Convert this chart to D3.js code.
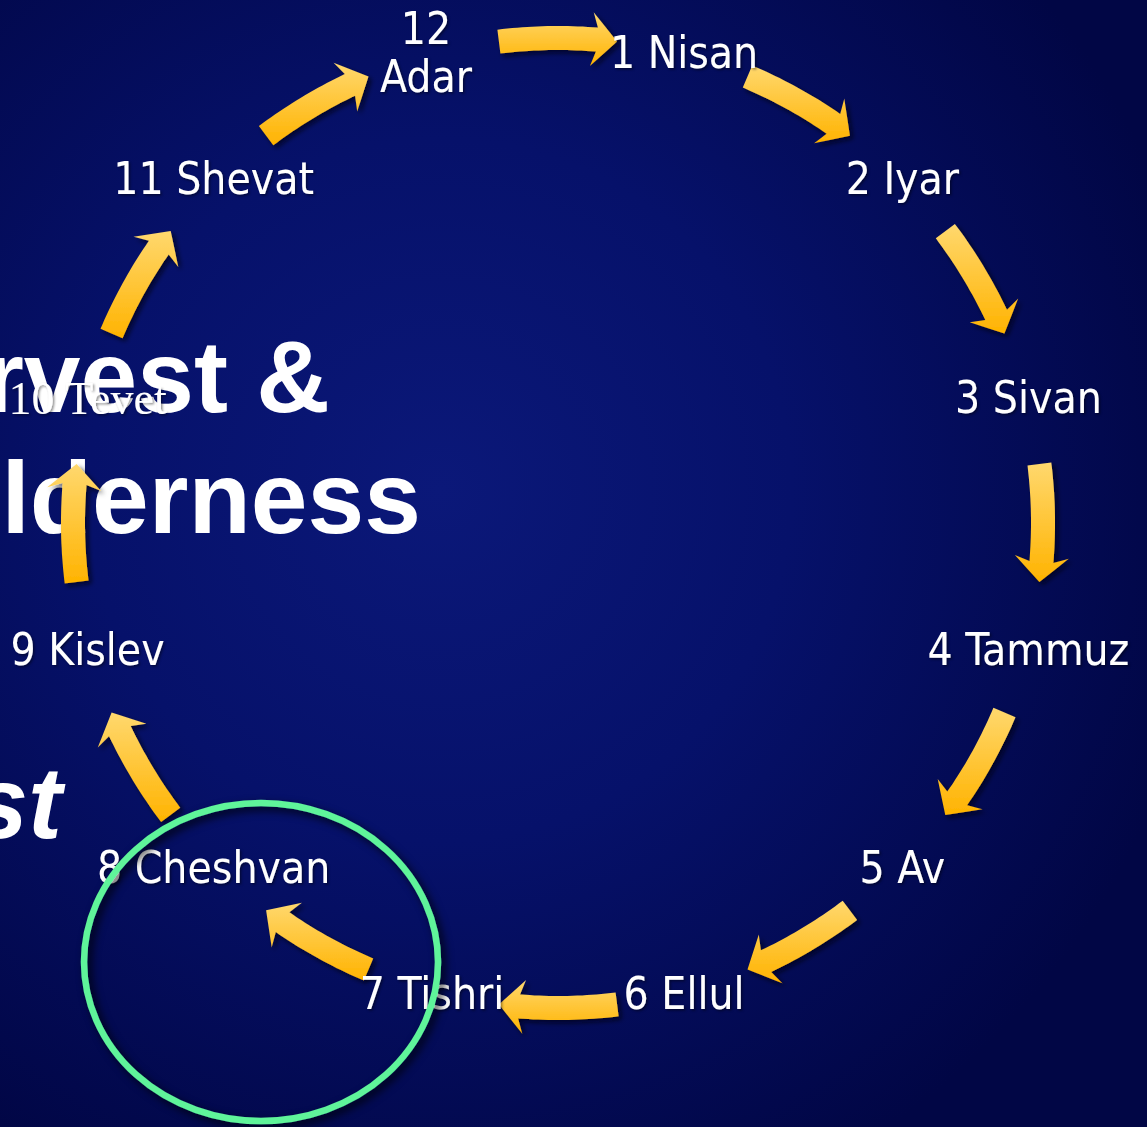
<!DOCTYPE html>
<html>
<head>
<meta charset="utf-8">
<script src="https://cdn.jsdelivr.net/npm/d3@7"></script>
<style>
    body { margin: 0; background: #020a56; overflow: hidden; }
    #cycle { width: 1147px; height: 1127px; }
</style>
</head>
<body>
<div id="cycle"></div>
<script>
// month labels around the cycle, clockwise starting with Nisan
let monthNumbers = [1, 2, 3, 4, 5, 6, 7, 8, 9, 10, 11, 12];
let monthNames = ["Nisan", "Iyar", "Sivan", "Tammuz", "Av", "Ellul",
                  "Tishri", "Cheshvan", "Kislev", "Tevet", "Shevat", "Adar"];
// arrows: from month -> to month
let arrowFrom = [12, 1, 2, 3, 4, 5, 6, 7, 8, 9, 10, 11];
let arrowTo   = [1, 2, 3, 4, 5, 6, 7, 8, 9, 10, 11, 12];
// big slide titles (mostly off the left edge)
let titleLines = ["Harvest &", "Wilderness"];
let subtitle = "Feast";

class MonthCycle {
    constructor(parentElementID) {
        this.parentElementID = parentElementID;
    }

    initVis() {
        let vis = this;
        vis.width = 1147;
        vis.height = 1127;
        vis.cx = 558;
        vis.cy = 523;
        vis.radius = 485;

        vis.svg = d3.select("#" + vis.parentElementID).append("svg")
            .attr("width", vis.width)
            .attr("height", vis.height);

        let defs = vis.svg.append("defs");

        let bg = defs.append("radialGradient")
            .attr("id", "bg-grad")
            .attr("gradientUnits", "userSpaceOnUse")
            .attr("cx", 440).attr("cy", 490).attr("r", 780);
        bg.append("stop").attr("offset", "0%").attr("stop-color", "#0b1879");
        bg.append("stop").attr("offset", "45%").attr("stop-color", "#06116a");
        bg.append("stop").attr("offset", "100%").attr("stop-color", "#010645");

        let ag = defs.append("linearGradient")
            .attr("id", "arrow-grad")
            .attr("x1", 0).attr("y1", 0).attr("x2", 0).attr("y2", 1);
        ag.append("stop").attr("offset", "0%").attr("stop-color", "#ffd86e");
        ag.append("stop").attr("offset", "100%").attr("stop-color", "#ffb300");

        defs.append("filter").attr("id", "arrow-shadow")
            .attr("x", "-30%").attr("y", "-30%").attr("width", "160%").attr("height", "160%")
            .append("feDropShadow")
            .attr("dx", 3).attr("dy", 3).attr("stdDeviation", 2.5)
            .attr("flood-color", "#000010").attr("flood-opacity", 0.7);

        defs.append("filter").attr("id", "text-shadow")
            .attr("x", "-10%").attr("y", "-20%").attr("width", "120%").attr("height", "140%")
            .append("feDropShadow")
            .attr("dx", 1.5).attr("dy", 1.5).attr("stdDeviation", 1)
            .attr("flood-color", "#000010").attr("flood-opacity", 0.45);

        defs.append("filter").attr("id", "ring-shadow")
            .attr("x", "-20%").attr("y", "-20%").attr("width", "140%").attr("height", "140%")
            .append("feDropShadow")
            .attr("dx", 4).attr("dy", 4).attr("stdDeviation", 4)
            .attr("flood-color", "#000000").attr("flood-opacity", 0.8);

        vis.svg.append("rect")
            .attr("width", vis.width)
            .attr("height", vis.height)
            .attr("fill", "url(#bg-grad)");

        // month index -> angle (degrees, clockwise from top)
        vis.angle = d3.scaleLinear().domain([0, 12]).range([0, 360]);
    }

    point(deg, r) {
        let vis = this;
        let a = deg * Math.PI / 180;
        return [vis.cx + r * Math.sin(a), vis.cy - r * Math.cos(a)];
    }

    arrowPath(midDeg) {
        let vis = this;
        let half = 7.0, shaftW = 24, headW = 54, headLen = 2.4;
        let a0 = midDeg - half, a1 = midDeg + half, ah = a1 - headLen;
        let r = vis.radius;
        let outer = d3.range(0, 21).map(k => vis.point(a0 + (ah - a0) * k / 20, r + shaftW / 2));
        let inner = d3.range(0, 21).map(k => vis.point(ah - (ah - a0) * k / 20, r - shaftW / 2));
        let pts = outer
            .concat([vis.point(ah - 0.6, r + headW / 2), vis.point(a1, r), vis.point(ah - 0.6, r - headW / 2)])
            .concat(inner);
        return "M" + pts.map(p => p[0].toFixed(1) + "," + p[1].toFixed(1)).join("L") + "Z";
    }

    updateVis() {
        let vis = this;

        // big white titles
        let titles = vis.svg.append("g")
            .attr("font-family", "'Liberation Sans', Arial, sans-serif")
            .attr("font-weight", "bold")
            .attr("font-size", 102)
            .attr("fill", "#ffffff");
        titles.selectAll(".title-line")
            .data(titleLines)
            .enter().append("text")
            .attr("class", "title-line")
            .attr("text-anchor", "end")
            .attr("x", (d, i) => i === 0 ? 330 : 421)
            .attr("y", (d, i) => 412 + i * 121)
            .text(d => d);
        titles.append("text")
            .attr("text-anchor", "end")
            .attr("font-style", "italic")
            .attr("x", 62)
            .attr("y", 838)
            .text(subtitle);

        // arrows between consecutive months
        let arrows = arrowFrom.map((f, i) => ({from: f, to: arrowTo[i]}));
        vis.svg.append("g")
            .attr("class", "arrows")
            .selectAll("path")
            .data(arrows)
            .enter().append("path")
            .attr("d", d => vis.arrowPath(vis.angle(d.to - 1)))
            .attr("fill", "url(#arrow-grad)")
            .attr("filter", "url(#arrow-shadow)");

        // month labels
        let labels = monthNumbers.map((n, i) => ({num: n, name: monthNames[i]}));
        let labelG = vis.svg.append("g")
            .attr("class", "labels")
            .attr("font-family", "'DejaVu Sans Condensed', 'DejaVu Sans', Verdana, sans-serif")
            .attr("font-stretch", "condensed")
            .attr("font-size", 44)
            .attr("fill", "#ffffff")
            .attr("filter", "url(#text-shadow)");

        let texts = labelG.selectAll("text")
            .data(labels)
            .enter().append("text")
            .attr("text-anchor", "middle")
            .attr("font-family", d => d.num === 10 ? "'Liberation Serif', serif" : null)
            .attr("font-size", d => d.num === 10 ? 46 : null)
            .attr("transform", d => {
                let p = vis.point(vis.angle(d.num - 0.5), vis.radius + 2);
                return "translate(" + p[0] + "," + p[1] + ")";
            });

        texts.each(function(d) {
            let t = d3.select(this);
            if (d.num === 12) {
                t.append("tspan").attr("x", -6).attr("dy", "-0.2em").text(d.num);
                t.append("tspan").attr("x", -6).attr("dy", "1.1em").text(d.name);
            } else {
                t.attr("dy", "0.36em").text(d.num + " " + d.name);
            }
        });

        // green highlight ring round Cheshvan
        vis.svg.append("ellipse")
            .attr("cx", 261)
            .attr("cy", 962)
            .attr("rx", 177)
            .attr("ry", 159)
            .attr("fill", "none")
            .attr("stroke", "#5ff49a")
            .attr("stroke-width", 6.5)
            .attr("filter", "url(#ring-shadow)");
    }
}

let chart = new MonthCycle("cycle");
chart.initVis();
chart.updateVis();
</script>
</body>
</html>
